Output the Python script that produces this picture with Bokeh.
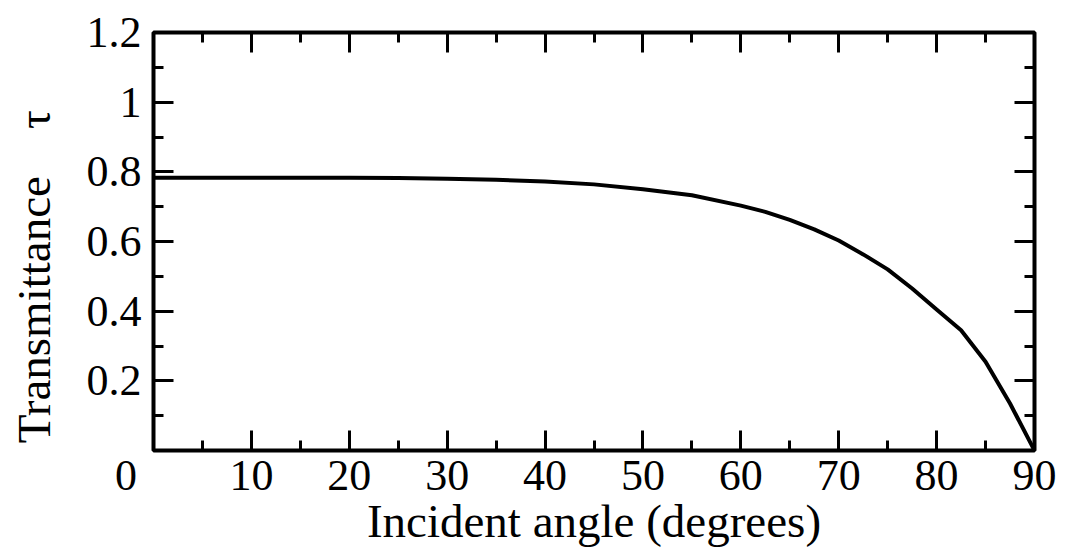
from bokeh.plotting import figure
from bokeh.models import Range1d, FixedTicker, LinearAxis
from bokeh.embed import file_html
from bokeh.resources import INLINE

# Data
angle_deg = [0, 5, 10, 15, 20, 25, 30, 35, 40, 45, 50, 55, 60, 62.5, 65, 67.5, 70,
             72.5, 75, 77.5, 80, 82.5, 85, 87.5, 90]
transmittance = [0.783, 0.783, 0.783, 0.783, 0.783, 0.782, 0.780, 0.777, 0.772, 0.764,
                 0.750, 0.733, 0.703, 0.685, 0.662, 0.635, 0.603,
                 0.563, 0.520, 0.465, 0.405, 0.345, 0.255, 0.135, 0.0]

x_major = [0, 10, 20, 30, 40, 50, 60, 70, 80, 90]
x_minor = [5, 15, 25, 35, 45, 55, 65, 75, 85]
y_major = [0, 0.2, 0.4, 0.6, 0.8, 1.0, 1.2]
y_minor = [0.1, 0.3, 0.5, 0.7, 0.9, 1.1]
y_tick_labels = {0: "", 0.2: "0.2", 0.4: "0.4", 0.6: "0.6", 0.8: "0.8", 1.0: "1", 1.2: "1.2"}
x_tick_labels = {0: "0\u00a0\u00a0\u00a0\u00a0\u00a0"}

FONT = "Liberation Serif"
NB = "\u00a0"

p = figure(width=1065, height=553, output_backend="svg", toolbar_location=None,
           x_range=Range1d(0, 90), y_range=Range1d(0, 1.2),
           min_border_left=153, min_border_right=31, min_border_top=32, min_border_bottom=103)

p.line(angle_deg, transmittance, line_color="black", line_width=4)

p.grid.visible = False
p.outline_line_color = "black"
p.outline_line_width = 4
p.outline_line_alpha = 1.0
p.background_fill_color = "white"
p.border_fill_color = "white"

p.xaxis.axis_label = "Incident angle (degrees)"
p.yaxis.axis_label = "Transmittance" + NB * 4 + "τ" + NB * 6

def style(ax):
    ax.axis_line_color = None
    ax.major_tick_in = 20
    ax.major_tick_out = 0
    ax.minor_tick_in = 10
    ax.minor_tick_out = 0
    ax.major_tick_line_width = 3
    ax.minor_tick_line_width = 3
    ax.major_tick_line_color = "black"
    ax.minor_tick_line_color = "black"
    ax.major_label_text_font = FONT
    ax.major_label_text_font_size = "44px"
    ax.major_label_text_color = "black"
    ax.axis_label_text_font = FONT
    ax.axis_label_text_font_size = "47px"
    ax.axis_label_text_font_style = "normal"
    ax.axis_label_text_color = "black"

for ax in p.xaxis:
    ax.ticker = FixedTicker(ticks=x_major, minor_ticks=x_minor)
    ax.major_label_overrides = x_tick_labels
    style(ax)
    ax.major_label_standoff = 0
    ax.axis_label_standoff = -8
for ax in p.yaxis:
    ax.ticker = FixedTicker(ticks=y_major, minor_ticks=y_minor)
    ax.major_label_overrides = y_tick_labels
    style(ax)
    ax.major_label_standoff = 12
    ax.axis_label_standoff = 24

top = LinearAxis(ticker=FixedTicker(ticks=x_major, minor_ticks=x_minor))
style(top)
top.major_label_overrides = {t: "" for t in x_major}
top.major_label_standoff = 0
p.add_layout(top, "above")
right = LinearAxis(ticker=FixedTicker(ticks=y_major, minor_ticks=y_minor))
style(right)
right.major_label_overrides = {t: "" for t in y_major}
right.major_label_standoff = 0
p.add_layout(right, "right")

open("out.html", "w").write(file_html(p, INLINE))
